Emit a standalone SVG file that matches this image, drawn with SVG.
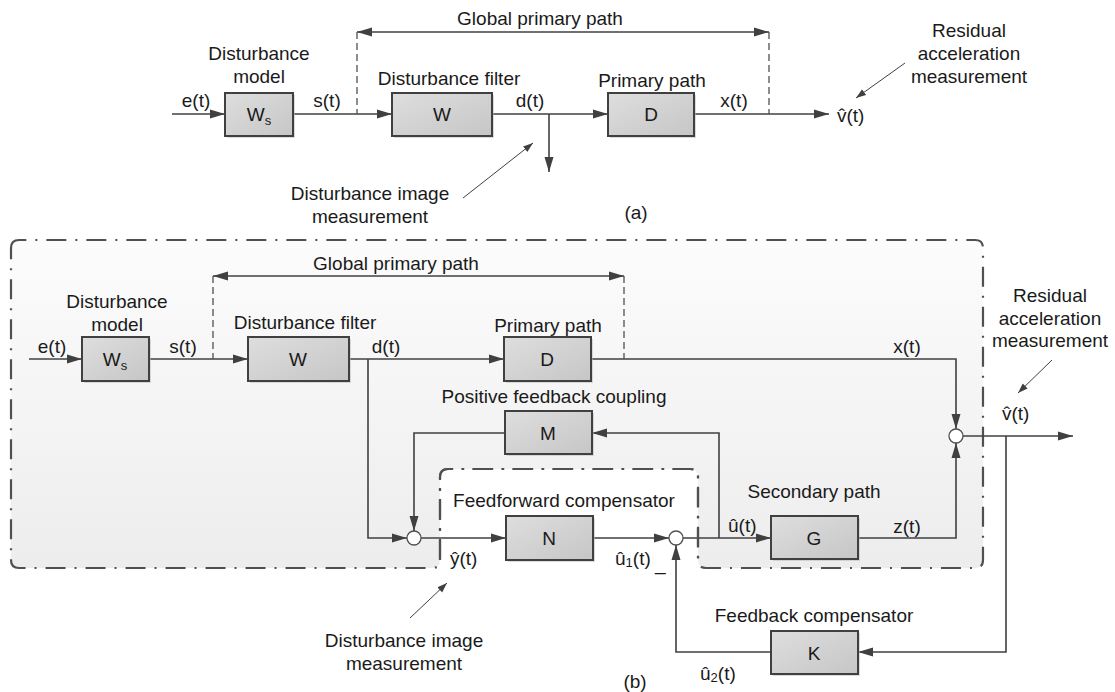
<svg xmlns="http://www.w3.org/2000/svg" width="1115" height="692" viewBox="0 0 1115 692">
<defs>
<linearGradient id="boxg" x1="0" y1="0" x2="1" y2="1">
<stop offset="0" stop-color="#dedede"/>
<stop offset="1" stop-color="#c6c6c6"/>
</linearGradient>
<linearGradient id="regg" x1="0" y1="0" x2="0" y2="1">
<stop offset="0" stop-color="#fcfcfc"/>
<stop offset="1" stop-color="#ededed"/>
</linearGradient>
<marker id="ah" markerUnits="userSpaceOnUse" markerWidth="16" markerHeight="10" refX="15" refY="5" orient="auto-start-reverse">
<path d="M0,0.5 L15,5 L0,9.5 z" fill="#404040"/>
</marker>
<marker id="sa" markerUnits="userSpaceOnUse" markerWidth="11" markerHeight="8" refX="10" refY="4" orient="auto">
<path d="M0,0.5 L10,4 L0,7.5 z" fill="#404040"/>
</marker>
</defs>
<style>
text{font-family:"Liberation Sans",Arial,sans-serif;font-size:19px;fill:#1a1a1a}
.c{text-anchor:middle}
.box{fill:url(#boxg);stroke:#404040;stroke-width:2}
.sh{fill:#b8b8b8;opacity:0.5}
.ln{fill:none;stroke:#404040;stroke-width:1.6}
.ar{fill:none;stroke:#404040;stroke-width:1.6;marker-end:url(#ah)}
.dar{fill:none;stroke:#404040;stroke-width:1.6;marker-start:url(#ah);marker-end:url(#ah)}
.dsh{fill:none;stroke:#505050;stroke-width:1.3;stroke-dasharray:7,4}
.ann{fill:none;stroke:#404040;stroke-width:1;marker-end:url(#sa)}
.sum{fill:#fff;stroke:#505050;stroke-width:1.3}
.reg{stroke:#505050;stroke-width:2.2;stroke-dasharray:20,9,2,9}
.sub{font-size:13px}
</style>

<!-- region background for (b) -->
<g id="region-b">
<path class="reg" fill="url(#regg)" d="M11,248 Q11,240 19,240 L975,240 Q983,240 983,248 L983,560 Q983,568 975,568 L706,568 Q698,568 698,560 L698,477 Q698,469 690,469 L448,469 Q440,469 440,477 L440,560 Q440,568 432,568 L19,568 Q11,568 11,560 Z"/>
</g>

<!-- ===== Part (a) ===== -->
<g id="connectors-a">
<line class="ar" x1="172" y1="114" x2="225" y2="114"/>
<line class="ar" x1="293" y1="114" x2="392" y2="114"/>
<line class="ar" x1="492" y1="114" x2="608" y2="114"/>
<line class="ar" x1="549" y1="114" x2="549" y2="172"/>
<line class="ar" x1="694" y1="114" x2="829" y2="114"/>
<line class="dar" x1="357" y1="32" x2="769" y2="32"/>
<line class="dsh" x1="357" y1="32" x2="357" y2="114"/>
<line class="dsh" x1="769" y1="32" x2="769" y2="114"/>
<line class="ann" x1="905" y1="63" x2="856" y2="98"/>
<line class="ann" x1="463" y1="198" x2="533" y2="143"/>
</g>

<g id="a-Ws">
<rect class="sh" x="227" y="95" width="68" height="43"/>
<rect class="box" x="225" y="93" width="68" height="43"/>
<text class="c" x="259" y="121">W<tspan class="sub" dy="4">s</tspan></text>
<text class="c" x="259" y="60">Disturbance</text>
<text class="c" x="259" y="83">model</text>
</g>
<g id="a-W">
<rect class="sh" x="394" y="95" width="100" height="43"/>
<rect class="box" x="392" y="93" width="100" height="43"/>
<text class="c" x="442" y="121">W</text>
<text class="c" x="449" y="85">Disturbance filter</text>
</g>
<g id="a-D">
<rect class="sh" x="610" y="95" width="86" height="43"/>
<rect class="box" x="608" y="93" width="86" height="43"/>
<text class="c" x="651" y="121">D</text>
<text class="c" x="652" y="87">Primary path</text>
</g>
<g id="a-labels">
<text class="c" x="540" y="25">Global primary path</text>
<text class="c" x="196" y="107">e(t)</text>
<text class="c" x="327" y="107">s(t)</text>
<text class="c" x="530" y="107">d(t)</text>
<text class="c" x="734" y="107">x(t)</text>
<text x="837" y="122">v̂(t)</text>
<text class="c" x="969" y="37">Residual</text>
<text class="c" x="969" y="60">acceleration</text>
<text class="c" x="969" y="83">measurement</text>
<text class="c" x="370" y="200">Disturbance image</text>
<text class="c" x="370" y="223">measurement</text>
<text class="c" x="636" y="219">(a)</text>
</g>

<!-- ===== Part (b) ===== -->
<g id="connectors-b">
<line class="ar" x1="29" y1="359" x2="82" y2="359"/>
<line class="ar" x1="149" y1="359" x2="248" y2="359"/>
<line class="ar" x1="349" y1="359" x2="504" y2="359"/>
<polyline class="ar" points="368,359 368,538 407,538"/>
<polyline class="ar" points="591,359 956,359 956,429"/>
<line class="ar" x1="963" y1="436" x2="1073" y2="436"/>
<polyline class="ar" points="1006,436 1006,652 858,652"/>
<polyline class="ar" points="771,652 676,652 676,545"/>
<line class="ar" x1="683" y1="538" x2="771" y2="538"/>
<polyline class="ar" points="719,538 719,433 592,433"/>
<polyline class="ar" points="505,433 414,433 414,531"/>
<line class="ar" x1="421" y1="538" x2="506" y2="538"/>
<line class="ar" x1="593" y1="538" x2="669" y2="538"/>
<polyline class="ar" points="858,538 956,538 956,443"/>
<line class="dar" x1="213" y1="276" x2="624" y2="276"/>
<line class="dsh" x1="213" y1="276" x2="213" y2="359"/>
<line class="dsh" x1="624" y1="276" x2="624" y2="359"/>
<line class="ann" x1="1052" y1="360" x2="1018" y2="393"/>
<line class="ann" x1="410" y1="618" x2="447" y2="583"/>
</g>

<g id="b-ff-region">
<path class="reg" fill="none" d="M440,560 L440,477 Q440,469 448,469 L690,469 Q698,469 698,477 L698,560"/>
</g>

<g id="b-Ws">
<rect class="sh" x="84" y="339" width="67" height="44"/>
<rect class="box" x="82" y="337" width="67" height="44"/>
<text class="c" x="115" y="366">W<tspan class="sub" dy="4">s</tspan></text>
<text class="c" x="117" y="308">Disturbance</text>
<text class="c" x="117" y="331">model</text>
</g>
<g id="b-W">
<rect class="sh" x="250" y="339" width="101" height="44"/>
<rect class="box" x="248" y="337" width="101" height="44"/>
<text class="c" x="298" y="366">W</text>
<text class="c" x="305" y="329">Disturbance filter</text>
</g>
<g id="b-D">
<rect class="sh" x="506" y="339" width="87" height="44"/>
<rect class="box" x="504" y="337" width="87" height="44"/>
<text class="c" x="547" y="366">D</text>
<text class="c" x="548" y="332">Primary path</text>
</g>
<g id="b-M">
<rect class="sh" x="507" y="413" width="87" height="43"/>
<rect class="box" x="505" y="411" width="87" height="43"/>
<text class="c" x="548" y="440">M</text>
<text class="c" x="554" y="403">Positive feedback coupling</text>
</g>
<g id="b-N">
<rect class="sh" x="508" y="518" width="87" height="44"/>
<rect class="box" x="506" y="516" width="87" height="44"/>
<text class="c" x="549" y="545">N</text>
<text class="c" x="564" y="507">Feedforward compensator</text>
</g>
<g id="b-G">
<rect class="sh" x="773" y="518" width="87" height="43"/>
<rect class="box" x="771" y="516" width="87" height="43"/>
<text class="c" x="814" y="545">G</text>
<text class="c" x="814" y="498">Secondary path</text>
</g>
<g id="b-K">
<rect class="sh" x="773" y="633" width="87" height="43"/>
<rect class="box" x="771" y="631" width="87" height="43"/>
<text class="c" x="814" y="660">K</text>
<text class="c" x="814" y="622">Feedback compensator</text>
</g>
<g id="b-sum1"><circle class="sum" cx="414" cy="538" r="7"/></g>
<g id="b-sum2"><circle class="sum" cx="676" cy="538" r="7"/></g>
<g id="b-sum3"><circle class="sum" cx="956" cy="436" r="7"/></g>

<g id="b-labels">
<text class="c" x="396" y="270">Global primary path</text>
<text class="c" x="52" y="353">e(t)</text>
<text class="c" x="183" y="353">s(t)</text>
<text class="c" x="386" y="353">d(t)</text>
<text class="c" x="907" y="353">x(t)</text>
<text class="c" x="1050" y="302">Residual</text>
<text class="c" x="1050" y="325">acceleration</text>
<text class="c" x="1050" y="347">measurement</text>
<text x="1002" y="420">v̂(t)</text>
<text x="450" y="565">ŷ(t)</text>
<text x="615" y="565">û<tspan class="sub" dy="2">1</tspan><tspan dy="-2">(t)</tspan></text>
<text x="655" y="570">_</text>
<text x="728" y="532">û(t)</text>
<text class="c" x="907" y="533">z(t)</text>
<text x="700" y="680">û<tspan class="sub" dy="2">2</tspan><tspan dy="-2">(t)</tspan></text>
<text class="c" x="404" y="647">Disturbance image</text>
<text class="c" x="404" y="670">measurement</text>
<text class="c" x="635" y="688">(b)</text>
</g>
</svg>
